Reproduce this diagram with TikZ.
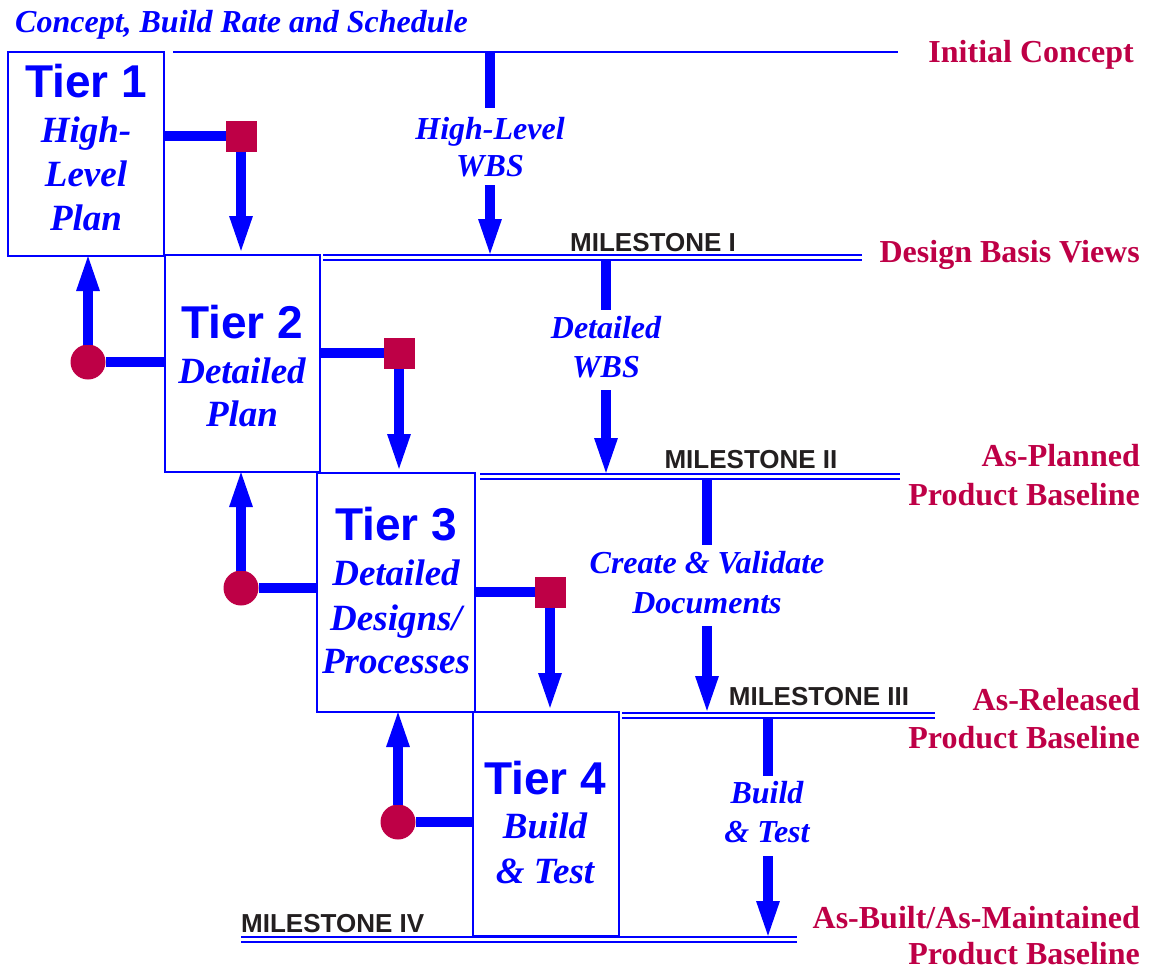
\documentclass[tikz,border=0pt]{standalone}
\usepackage{fontspec}
\setmainfont{Liberation Serif}
\newfontfamily\hv{Liberation Sans}
\usetikzlibrary{arrows.meta}
\definecolor{crim}{RGB}{190,0,70}
\definecolor{msgray}{RGB}{35,31,32}
\begin{document}
\begin{tikzpicture}[x=1pt,y=-1pt,
  tierbox/.style={draw=blue, line width=2.5pt, inner sep=0, outer sep=0},
  tier/.style={font={\hv\bfseries\fontsize{46}{46}\selectfont}, text=blue, anchor=base, inner sep=0},
  desc/.style={font={\bfseries\itshape\fontsize{37}{37}\selectfont}, text=blue, anchor=base, inner sep=0},
  lbl/.style={font={\bfseries\itshape\fontsize{32}{32}\selectfont}, text=blue, anchor=base, inner sep=0},
  ms/.style={font={\hv\bfseries\fontsize{26}{26}\selectfont}, text=msgray, anchor=base, inner sep=0},
  stat/.style={font={\bfseries\fontsize{32}{32}\selectfont}, text=crim, anchor=base east, inner sep=0},
  conn/.style={draw=blue, line width=10pt},
  arr/.style={draw=blue, line width=10pt, -{Triangle[length=40pt,width=20pt]}, shorten >=-5pt},
  msline/.style={draw=blue, line width=2.5pt},
  sq/.style={fill=crim, minimum size=31pt, inner sep=0, outer sep=0},
  dot/.style={circle, fill=crim, minimum size=35pt, inner sep=0, outer sep=0}]
\useasboundingbox (0,0) rectangle (1153,970);

% title
\node[lbl, anchor=base west] (title) at (15,32) {Concept, Build Rate and Schedule};

% tier boxes
\node[tierbox, minimum width=156pt, minimum height=204pt] (t1) at (86,154) {};
\node[tierbox, minimum width=155pt, minimum height=217pt] (t2) at (242.5,363.5) {};
\node[tierbox, minimum width=158pt, minimum height=239pt] (t3) at (396,592.5) {};
\node[tierbox, minimum width=146pt, minimum height=224pt] (t4) at (546,824) {};

% tier texts
\node[tier] (t1a) at (86,97) {Tier 1};
\node[desc] (t1b) at (86,142) {High-};
\node[desc] (t1c) at (86,186) {Level};
\node[desc] (t1d) at (86,230) {Plan};

\node[tier] (t2a) at (242,338) {Tier 2};
\node[desc] (t2b) at (242,383) {Detailed};
\node[desc] (t2c) at (242,426) {Plan};

\node[tier] (t3a) at (396,540) {Tier 3};
\node[desc] (t3b) at (396,585) {Detailed};
\node[desc] (t3c) at (396,630) {Designs/};
\node[desc] (t3d) at (396,673) {Processes};

\node[tier] (t4a) at (545,794) {Tier 4};
\node[desc] (t4b) at (545,838) {Build};
\node[desc] (t4c) at (545,883) {\& Test};

% squares and dots
\node[sq] (s1) at (241,136) {};
\node[sq] (s2) at (399,353) {};
\node[sq] (s3) at (550,592) {};
\node[dot] (c1) at (88,362) {};
\node[dot] (c2) at (241,588) {};
\node[dot] (c3) at (398,822) {};

% forward connectors
\draw[conn] (t1.east |- s1) -- (s1.west);
\draw[arr, shorten >=-1pt] (s1.south) -- (t2.north -| s1);
\draw[conn] (t2.east |- s2) -- (s2.west);
\draw[arr, shorten >=-1pt] (s2.south) -- (t3.north -| s2);
\draw[conn] (t3.east |- s3) -- (s3.west);
\draw[arr, shorten >=-1pt] (s3.south) -- (t4.north -| s3);

% feedback connectors
\draw[conn] (c1.east) -- (t2.west |- c1);
\draw[arr] (c1.north) -- (t1.south -| c1);
\draw[conn] (c2.east) -- (t3.west |- c2);
\draw[arr] (c2.north) -- (t2.south -| c2);
\draw[conn] (c3.east) -- (t4.west |- c3);
\draw[arr] (c3.north) -- (t3.south -| c3);

% milestone lines
\coordinate (m0l) at (173,52);  \coordinate (m0r) at (898,52);
\draw[draw=blue, line width=2pt] (m0l) -- (m0r);
\coordinate (m1l) at (323,255); \coordinate (m1r) at (862,255);
\draw[msline] (m1l) -- (m1r);
\draw[msline] ([yshift=-5pt]m1l) -- ([yshift=-5pt]m1r);
\coordinate (m2l) at (480,474); \coordinate (m2r) at (900,474);
\draw[msline] (m2l) -- (m2r);
\draw[msline] ([yshift=-5pt]m2l) -- ([yshift=-5pt]m2r);
\coordinate (m3l) at (622,713); \coordinate (m3r) at (935,713);
\draw[msline] (m3l) -- (m3r);
\draw[msline] ([yshift=-5pt]m3l) -- ([yshift=-5pt]m3r);
\coordinate (m4l) at (241,937); \coordinate (m4r) at (797,937);
\draw[msline] (m4l) -- (m4r);
\draw[msline] ([yshift=-5pt]m4l) -- ([yshift=-5pt]m4r);

% milestone labels
\node[ms] (ms1) at (653,251) {MILESTONE I};
\node[ms] (ms2) at (751,468) {MILESTONE II};
\node[ms] (ms3) at (819,705) {MILESTONE III};
\node[ms, anchor=base west] (ms4) at (241,932) {MILESTONE IV};

% vertical flows between milestones
\coordinate (w1a) at (490,52);  \coordinate (w1b) at (490,108);
\coordinate (w1c) at (490,185); \coordinate (w1d) at (490,254);
\draw[conn] (w1a) -- (w1b);
\draw[arr] (w1c) -- (w1d);
\node[lbl] (l1a) at (490,139) {High-Level};
\node[lbl] (l1b) at (490,176) {WBS};

\coordinate (w2a) at (606,259); \coordinate (w2b) at (606,310);
\coordinate (w2c) at (606,390); \coordinate (w2d) at (606,473);
\draw[conn] (w2a) -- (w2b);
\draw[arr] (w2c) -- (w2d);
\node[lbl] (l2a) at (606,338) {Detailed};
\node[lbl] (l2b) at (606,377) {WBS};

\coordinate (w3a) at (707,478); \coordinate (w3b) at (707,545);
\coordinate (w3c) at (707,626); \coordinate (w3d) at (707,711);
\draw[conn] (w3a) -- (w3b);
\draw[arr] (w3c) -- (w3d);
\node[lbl] (l3a) at (707,573) {Create \& Validate};
\node[lbl] (l3b) at (707,613) {Documents};

\coordinate (w4a) at (768,717); \coordinate (w4b) at (768,776);
\coordinate (w4c) at (768,856); \coordinate (w4d) at (768,936);
\draw[conn] (w4a) -- (w4b);
\draw[arr] (w4c) -- (w4d);
\node[lbl] (l4a) at (767,803) {Build};
\node[lbl] (l4b) at (767,842) {\& Test};

% states
\node[stat] (st0) at (1134,62) {Initial Concept};
\node[stat] (st1) at (1140,262) {Design Basis Views};
\node[stat] (st2a) at (1140,466) {As-Planned};
\node[stat] (st2b) at (1140,505) {Product Baseline};
\node[stat] (st3a) at (1140,710) {As-Released};
\node[stat] (st3b) at (1140,748) {Product Baseline};
\node[stat] (st4a) at (1140,928) {As-Built/As-Maintained};
\node[stat] (st4b) at (1140,964) {Product Baseline};
\end{tikzpicture}
\end{document}
